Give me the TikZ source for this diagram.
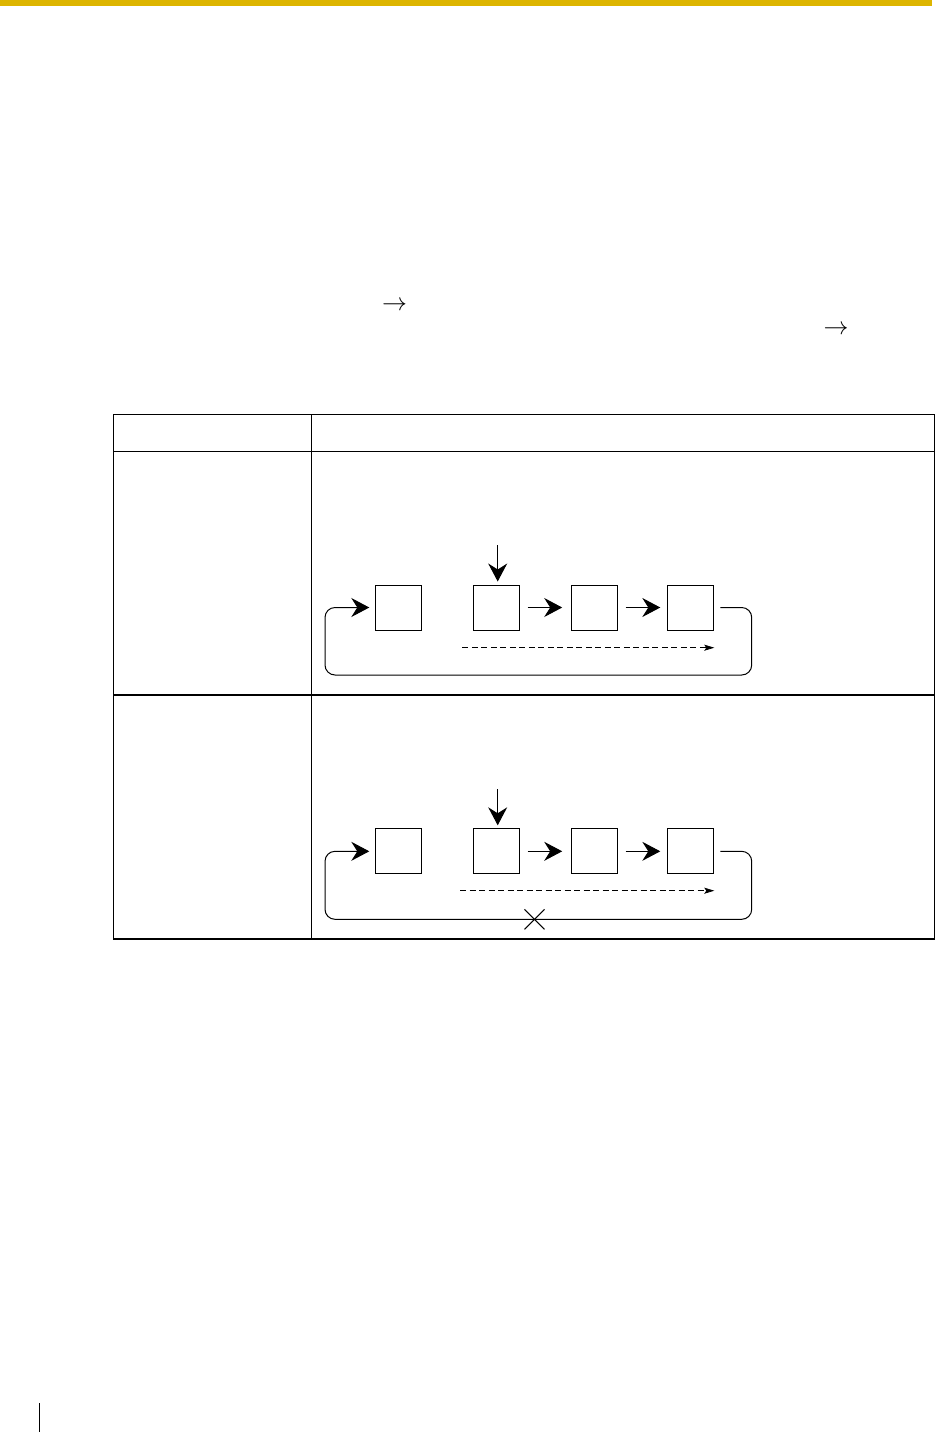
\documentclass[tikz,border=0pt]{standalone}
\usetikzlibrary{arrows.meta,calc}
\definecolor{gold}{RGB}{221,181,0}
\tikzset{
  cell/.style={draw=black,line width=1pt,minimum width=46pt,minimum height=45pt,inner sep=0pt},
  bigarrow/.style={line width=1pt,-{Stealth[length=18pt,width=19pt,inset=6pt]}},
  dasharrow/.style={line width=0.8pt,dash pattern=on 6pt off 3.5pt,-{Stealth[length=10pt,width=6pt,inset=2pt]}},
  loopline/.style={line width=1pt,rounded corners=10pt},
  tableline/.style={line width=1.1pt},
  glyph/.style={inner sep=0pt,font=\fontsize{20}{22}\selectfont}
}
\begin{document}
\begin{tikzpicture}[x=1pt,y=-1pt]
\useasboundingbox (0,0) rectangle (936,1432);
% header bar
\fill[gold] (0,0) rectangle (932,6);
% footer mark
\draw[line width=1.1pt] (39.3,1403) -- (39.3,1432);
% text arrows
\node[glyph] (ta1) at (394.5,306) {\scalebox{1.2}{$\rightarrow$}};
\node[glyph] (ta2) at (836,330) {\scalebox{1.2}{$\rightarrow$}};
% table
\draw[tableline] (113.7,414.3) rectangle (934.7,939);
\draw[tableline] (311.7,414.3) -- (311.7,939);
\draw[tableline] (113.7,451.3) -- (934.7,451.3);
\draw[tableline] (113.7,695) -- (934.7,695);

% ---------- diagram 1 ----------
\node[cell] (a1) at (398.3,607.5) {};
\node[cell] (b1) at (496.2,607.5) {};
\node[cell] (c1) at (594.2,607.5) {};
\node[cell] (d1) at (690.8,607.5) {};
\coordinate (in1) at (497.7,545);
\draw[bigarrow,shorten >=3pt] (in1) -- (in1 |- b1.north);
\draw[bigarrow,shorten <=8pt,shorten >=8.5pt] (b1.east) -- (c1.west);
\draw[bigarrow,shorten <=8pt,shorten >=7pt] (c1.east) -- (d1.west);
\coordinate (ds1) at (462.3,647.7);
\coordinate (de1) at (714.3,647.7);
\draw[dasharrow] (ds1) -- (de1);
\coordinate (lp1a) at (751.7,675);
\coordinate (lp1b) at (325,675);
\draw[loopline,bigarrow] ([xshift=6pt]d1.east) -| (lp1a) -- (lp1b) |- ([xshift=-5.5pt]a1.west);

% ---------- diagram 2 ----------
\node[cell] (a2) at (398.3,851.3) {};
\node[cell] (b2) at (496.2,851.3) {};
\node[cell] (c2) at (594.2,851.3) {};
\node[cell] (d2) at (690.8,851.3) {};
\coordinate (in2) at (497.7,789);
\draw[bigarrow,shorten >=3pt] (in2) -- (in2 |- b2.north);
\draw[bigarrow,shorten <=8pt,shorten >=8.5pt] (b2.east) -- (c2.west);
\draw[bigarrow,shorten <=8pt,shorten >=7pt] (c2.east) -- (d2.west);
\coordinate (ds2) at (460,890.7);
\coordinate (de2) at (714.3,890.7);
\draw[dasharrow] (ds2) -- (de2);
\coordinate (lp2a) at (751.7,919.3);
\coordinate (lp2b) at (325,919.3);
\draw[loopline,bigarrow] ([xshift=6pt]d2.east) -| (lp2a) -- (lp2b) |- ([xshift=-5.5pt]a2.west);
\coordinate (xm) at (534.5,919.3);
\draw[line width=1.1pt] ($(xm)+(-10,-10)$) -- ($(xm)+(10,10)$);
\draw[line width=1.1pt] ($(xm)+(-10,10)$) -- ($(xm)+(10,-10)$);
\end{tikzpicture}
\end{document}
